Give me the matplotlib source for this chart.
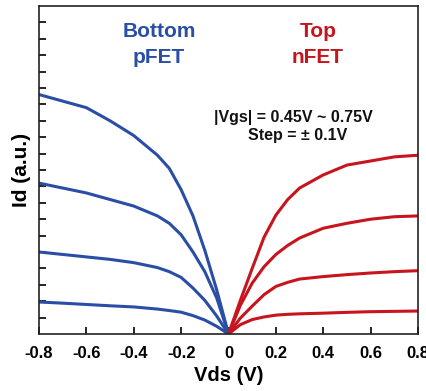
import numpy as np
import matplotlib
matplotlib.use('Agg')
import matplotlib.pyplot as plt

plt.rcParams['font.family'] = ['Liberation Sans', 'DejaVu Sans']
plt.rcParams['font.weight'] = 'bold'

# Vds points (V)
vds_p = [-0.8, -0.7, -0.6, -0.5, -0.4, -0.3, -0.25, -0.2, -0.15, -0.1, -0.05, 0.0]
vds_n = [0.0, 0.05, 0.1, 0.15, 0.2, 0.25, 0.3, 0.4, 0.5, 0.6, 0.7, 0.8]

# Bottom pFET, |Vgs| = 0.75, 0.65, 0.55, 0.45 V
id_p1 = [14.6, 14.2, 13.8, 13.0, 12.1, 10.9, 10.1, 8.8, 7.2, 5.1, 2.7, 0.0]
id_p2 = [9.2, 8.9, 8.6, 8.2, 7.8, 7.2, 6.75, 6.05, 5.0, 3.8, 2.2, 0.0]
id_p3 = [5.0, 4.85, 4.7, 4.55, 4.35, 4.05, 3.8, 3.45, 2.8, 2.05, 1.1, 0.0]
id_p4 = [1.95, 1.88, 1.8, 1.72, 1.65, 1.52, 1.43, 1.33, 1.12, 0.85, 0.47, 0.0]

# Top nFET, Vgs = 0.75, 0.65, 0.55, 0.45 V
id_n1 = [0.0, 2.05, 4.0, 5.9, 7.25, 8.2, 8.9, 9.7, 10.3, 10.55, 10.8, 10.9]
id_n2 = [0.0, 1.75, 3.1, 4.1, 4.85, 5.4, 5.85, 6.45, 6.75, 7.0, 7.15, 7.2]
id_n3 = [0.0, 0.97, 1.7, 2.4, 2.9, 3.15, 3.35, 3.5, 3.62, 3.72, 3.8, 3.86]
id_n4 = [0.0, 0.57, 0.88, 1.04, 1.15, 1.2, 1.23, 1.27, 1.32, 1.36, 1.38, 1.4]

x_ticks = [-0.8, -0.6, -0.4, -0.2, 0, 0.2, 0.4, 0.6, 0.8]
x_labels = ['-0.8', '-0.6', '-0.4', '-0.2', '0', '0.2', '0.4', '0.6', '0.8']

blue = '#2a4ea6'
red = '#c8141c'

fig = plt.figure(figsize=(4.27, 3.91), dpi=100)
ax = fig.add_axes([0.0913, 0.1458, 0.8877, 0.8389])

for ys in [id_p1, id_p2, id_p3, id_p4]:
    ax.plot(vds_p, ys, color=blue, lw=2.2, solid_capstyle='round', solid_joinstyle='round')
for ys in [id_n1, id_n2, id_n3, id_n4]:
    ax.plot(vds_n, ys, color=red, lw=2.2, solid_capstyle='round', solid_joinstyle='round')

ax.set_xlim(-0.8, 0.8)
ax.set_ylim(0, 20)
ax.set_xticks(x_ticks)
ax.set_xticklabels(x_labels, fontsize=12, fontweight='bold')
ax.set_yticks(np.arange(1, 20))
ax.set_yticklabels([])
ax.tick_params(axis='both', direction='in', length=5, width=1.2,
               top=False, right=False, pad=9)
for sp in ax.spines.values():
    sp.set_linewidth(1.2)
    sp.set_color('#222222')

ax.set_xlabel('Vds (V)', fontsize=14.5, fontweight='bold', labelpad=3)
ax.set_ylabel('Id (a.u.)', fontsize=15, fontweight='bold')
ax.yaxis.set_label_coords(-0.02, 0.5)

ax.text(-0.293, 18.09, 'Bottom', color=blue, fontsize=15, fontweight='bold',
        ha='center', va='baseline')
ax.text(-0.293, 16.54, 'pFET', color=blue, fontsize=15, fontweight='bold',
        ha='center', va='baseline')
ax.text(0.378, 18.08, 'Top', color=red, fontsize=15, fontweight='bold',
        ha='center', va='baseline')
ax.text(0.378, 16.54, 'nFET', color=red, fontsize=15, fontweight='bold',
        ha='center', va='baseline')
ax.text(0.274, 12.95, '|Vgs| = 0.45V ~ 0.75V', color='#111111',
        fontsize=11.5, fontweight='bold', ha='center', va='baseline')
ax.text(0.29, 11.83, 'Step = \u00b1 0.1V', color='#111111',
        fontsize=11.5, fontweight='bold', ha='center', va='baseline')

fig.savefig('out.png', dpi=100)
